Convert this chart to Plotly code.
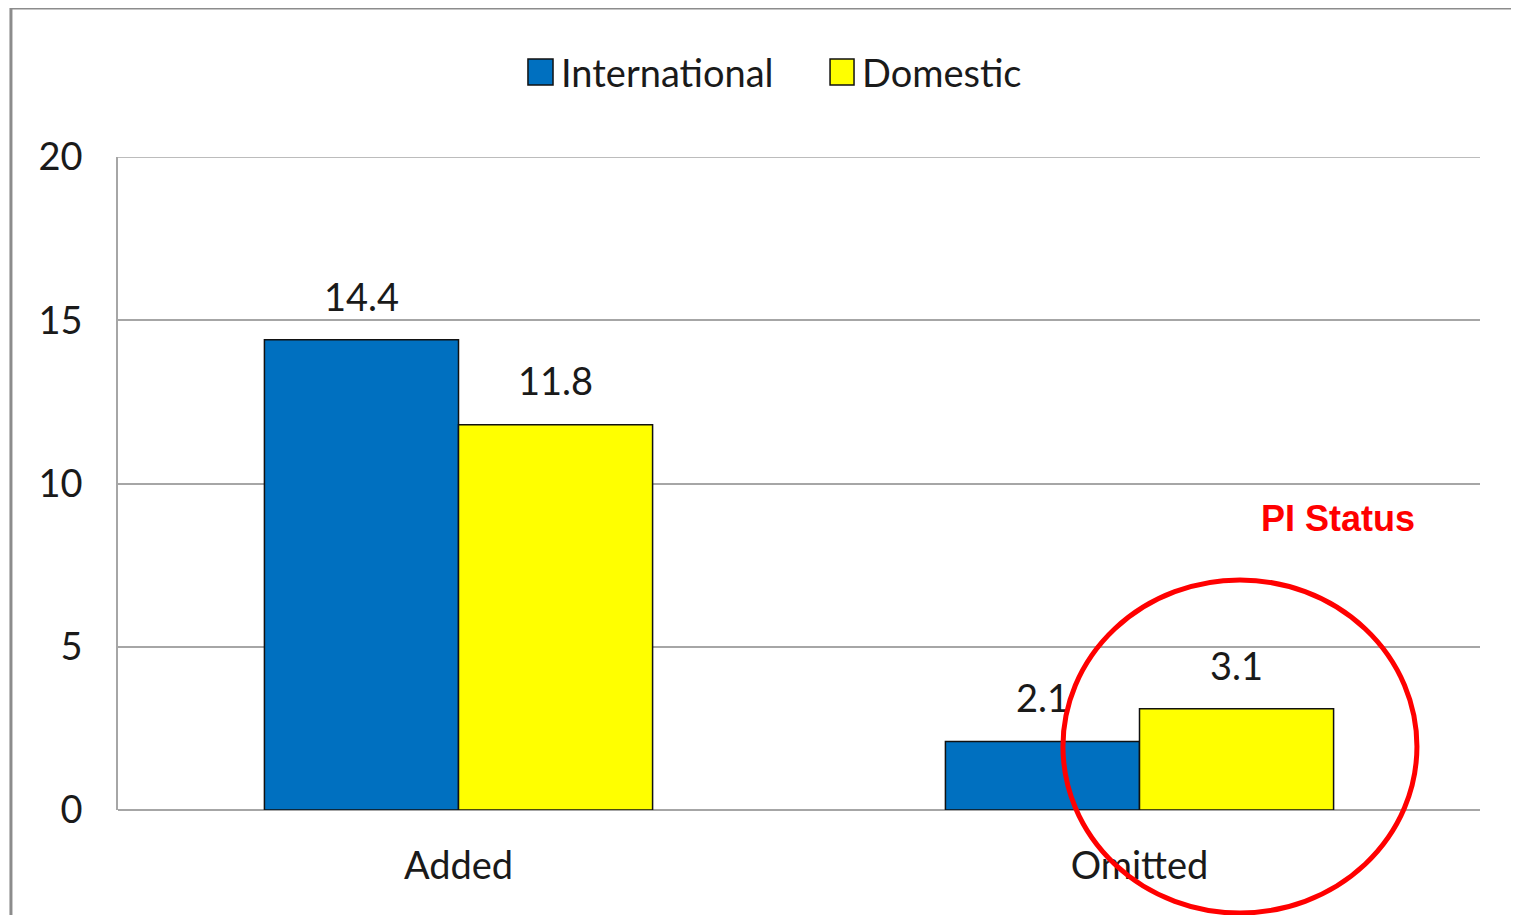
import plotly.graph_objects as go

categories = ["Added", "Omitted"]
series_names = ["International", "Domestic"]
international = [14.4, 2.1]
domestic = [11.8, 3.1]
y_ticks = [0, 5, 10, 15, 20]

colors = ["#0070C0", "#FFFF00"]
FONT = "Lato"
TXT = "#1a1a1a"
FS = 38

fig = go.Figure()
for name, vals, col in zip(series_names, [international, domestic], colors):
    fig.add_trace(go.Bar(
        x=categories, y=vals, name=name, offsetgroup=name,
        marker=dict(color=col, line=dict(color="#111111", width=1.5)),
        showlegend=False, hoverinfo="skip",
    ))
    fig.add_trace(go.Scatter(
        x=categories, y=vals, mode="markers+text", offsetgroup=name,
        text=[f"{v:.1f}" for v in vals], textposition="top center",
        textfont=dict(family=FONT, size=FS, color=TXT),
        marker=dict(size=30, opacity=0), showlegend=False, hoverinfo="skip",
        cliponaxis=False,
    ))

shapes = []
annotations = []

# outer chart border (left and top visible)
shapes.append(dict(type="rect", xref="paper", yref="paper",
                   x0=-0.0786, x1=1.06, y0=-0.25, y1=1.2282,
                   line=dict(color="#8c8c8c", width=3), layer="below"))

# top gridline at 20
shapes.append(dict(type="line", xref="paper", yref="y", x0=0, x1=1, y0=20, y1=20,
                   line=dict(color="#a6a6a6", width=1.5), layer="below"))

# manual legend
leg_sq = [(0.3010, 0.3194), (0.5228, 0.5404)]
leg_tx = [0.3235, 0.5450]
for name, col, (sx0, sx1), tx in zip(series_names, colors, leg_sq, leg_tx):
    shapes.append(dict(type="rect", xref="paper", yref="paper",
                       x0=sx0, x1=sx1, y0=1.1103, y1=1.1501,
                       fillcolor=col, line=dict(color="#111111", width=1.5)))
    annotations.append(dict(text=name, xref="paper", yref="paper", x=tx, y=1.1302,
                            xanchor="left", yanchor="middle", showarrow=False,
                            font=dict(family=FONT, size=FS, color=TXT)))

# red highlight circle and label
shapes.append(dict(type="circle", xref="paper", yref="paper",
                   x0=0.6938, x1=0.9537, y0=-0.1577, y1=0.3522,
                   line=dict(color="#FF0000", width=5), layer="above"))
annotations.append(dict(text="<b>PI Status</b>", xref="paper", yref="paper",
                        x=0.8957, y=0.447, xanchor="center", yanchor="middle",
                        showarrow=False,
                        font=dict(family="Liberation Sans", size=36, color="#FF0000")))

fig.update_layout(
    width=1519, height=915,
    margin=dict(l=110, r=47, t=149, b=113),
    paper_bgcolor="white", plot_bgcolor="white",
    barmode="group", bargap=0.43, bargroupgap=0,
    scattermode="group", scattergap=0.43,
    shapes=shapes, annotations=annotations,
    showlegend=False,
    font=dict(family=FONT, size=FS, color=TXT),
)
fig.update_xaxes(showgrid=False, showline=False, ticks="",
                 tickfont=dict(family=FONT, size=FS, color=TXT),
                 ticklabelstandoff=30)
fig.update_yaxes(range=[0, 20], tickvals=y_ticks, showgrid=True,
                 gridcolor="#a6a6a6", gridwidth=1.5,
                 zeroline=True, zerolinecolor="#a6a6a6", zerolinewidth=1.5,
                 showline=True, linecolor="#a6a6a6", linewidth=1.5, ticks="",
                 tickfont=dict(family=FONT, size=FS, color=TXT),
                 ticklabelstandoff=26)

fig.write_html("out.html")
